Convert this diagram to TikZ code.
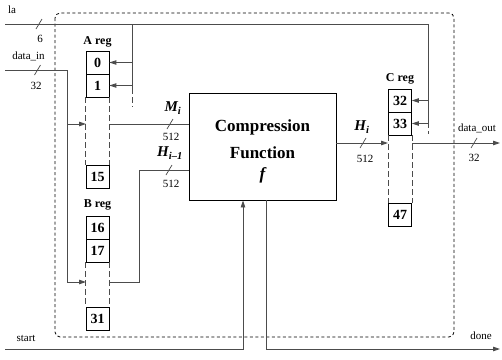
\documentclass[tikz,border=0pt]{standalone}
\usepackage{fontspec}
\setmainfont{Liberation Serif}
\usetikzlibrary{arrows.meta}
\definecolor{wirec}{gray}{0.3}
\tikzset{
 reg/.style={draw=black, line width=0.8pt, minimum width=23pt, minimum height=23pt, inner sep=0pt, font=\fontsize{14}{14}\selectfont\bfseries},
 wire/.style={draw=wirec, line width=0.9pt},
 arr/.style={wire, -{Triangle[length=7pt,width=4.5pt]}},
 dsh/.style={draw=wirec, line width=0.8pt, dash pattern=on 6pt off 3pt},
 small/.style={font=\fontsize{11}{11}\selectfont, inner sep=0pt},
 reglabel/.style={font=\fontsize{12}{12}\selectfont\bfseries, inner sep=0pt},
 sigl/.style={font=\fontsize{15}{15}\selectfont\bfseries\itshape, inner sep=0pt},
 big/.style={font=\fontsize{17}{17}\selectfont\bfseries, inner sep=0pt},
 frame/.style={draw=black, line width=0.8pt, dash pattern=on 3pt off 2.5pt, rounded corners=5pt},
 busmark/.style={draw=wirec, line width=0.7pt},
}
\begin{document}
\begin{tikzpicture}[x=1pt,y=-1pt]
\useasboundingbox (0,0) rectangle (502,359);
\draw[frame] (55,13) rectangle (454,337);

% registers
\node[reg] (a0) at (97.5,62.5) {0};
\node[reg] (a1) at (97.5,85.5) {1};
\node[reg] (a15) at (97.5,177) {15};
\node[reg] (b16) at (97.5,227.5) {16};
\node[reg] (b17) at (97.5,250.5) {17};
\node[reg] (b31) at (97.5,319) {31};
\node[reg] (c32) at (400,100.5) {32};
\node[reg] (c33) at (400,123.5) {33};
\node[reg] (c47) at (400,215) {47};
\node[reglabel] (alab) at (97.5,42) {A reg};
\node[reglabel] (blab) at (97.5,205) {B reg};
\node[reglabel] (clab) at (400,79) {C reg};

\draw[dsh] (a1.south west) -- (a15.north west);
\draw[dsh] (a1.south east) -- (a15.north east);
\draw[dsh] (b17.south west) -- (b31.north west);
\draw[dsh] (b17.south east) -- (b31.north east);
\draw[dsh] (c33.south west) -- (c47.north west);
\draw[dsh] (c33.south east) -- (c47.north east);

% compression function
\node[draw=black, line width=0.9pt, minimum width=147pt, minimum height=107pt, inner sep=0pt] (cf) at (262.5,146.5) {};
\node[big] (cft1) at (262.5,127) {Compression};
\node[big] (cft2) at (262.5,153) {Function};
\node[big, font=\fontsize{17}{17}\selectfont\bfseries\itshape] (cft3) at (262.5,175) {f};

% coordinates
\coordinate (laS) at (5,24);
\coordinate (laA) at (132,24);
\coordinate (laE) at (428,24);
\coordinate (laAe) at (132,88);
\coordinate (laAd) at (132,107);
\coordinate (laEe) at (428,125);
\coordinate (laEd) at (428,134);
\coordinate (dS) at (5,70);
\coordinate (dT) at (67,70);
\coordinate (aIn) at (86,124);
\coordinate (bIn) at (86,282);
\coordinate (aOut) at (109,124);
\coordinate (bOut) at (109,282);
\coordinate (hk) at (139,170);
\coordinate (cIn) at (388,143);
\coordinate (cOut) at (412,143);
\coordinate (dOut) at (500,143);
\coordinate (stS) at (5,349);
\coordinate (stC) at (243,349);
\coordinate (dnC) at (266,349);
\coordinate (dnE) at (500,349);

% la bus
\draw[wire] (laS) -- (laE) -- (laEe);
\draw[dsh, dash pattern=on 3pt off 3pt] (laEe) -- (laEd);
\draw[wire] (laA) -- (laAe);
\draw[dsh] (laAe) -- (laAd);
\draw[arr] (laA |- a0.east) -- (a0.east);
\draw[arr] (laA |- a1.east) -- (a1.east);
\draw[arr] (laE |- c32.east) -- (c32.east);
\draw[arr] (laE |- c33.east) -- (c33.east);

% data_in
\draw[wire] (dS) -- (dT) -- (dT |- bIn);
\draw[arr] (dT |- aIn) -- (aIn);
\draw[arr] (dT |- bIn) -- (bIn);

% Mi and Hi-1
\draw[wire] (aOut) -- (aOut -| cf.west);
\draw[wire] (bOut) -- (bOut -| hk) -- (hk) -- (hk -| cf.west);

% Hi and data_out
\draw[arr] (cIn -| cf.east) -- (cIn);
\draw[arr] (cOut) -- (dOut);

% start / done
\draw[arr] (stS) -- (stC) -- (stC |- cf.south);
\draw[arr] (dnC |- cf.south) -- (dnC) -- (dnE);

% bus marks
\draw[busmark] (39,24) ++(-3,5) -- ++(6,-10);
\draw[busmark] (37.5,70) ++(-3,5) -- ++(6,-10);
\draw[busmark] (170,124) ++(-3,5) -- ++(6,-10);
\draw[busmark] (169,170) ++(-3,5) -- ++(6,-10);
\draw[busmark] (363,143) ++(-3,5) -- ++(6,-10);
\draw[busmark] (474,143) ++(-3,5) -- ++(6,-10);

% labels
\node[small] (tla) at (12,10) {la};
\node[small] (t6) at (40,39) {6};
\node[small] (tdin) at (28.5,56) {data\_in};
\node[small] (t32a) at (36,86) {32};
\node[small] (t512a) at (171,137) {512};
\node[small] (t512b) at (171,184) {512};
\node[small] (t512c) at (365,159) {512};
\node[small] (tdout) at (477,128) {data\_out};
\node[small] (t32b) at (474,158) {32};
\node[small] (tstart) at (26,338) {start};
\node[small] (tdone) at (481,336) {done};
\node[sigl] (tmi) at (173,108) {M\textsubscript{i}};
\node[sigl] (thi1) at (170,153) {H\textsubscript{i–1}};
\node[sigl] (thi) at (362,127) {H\textsubscript{i}};
\end{tikzpicture}
\end{document}
